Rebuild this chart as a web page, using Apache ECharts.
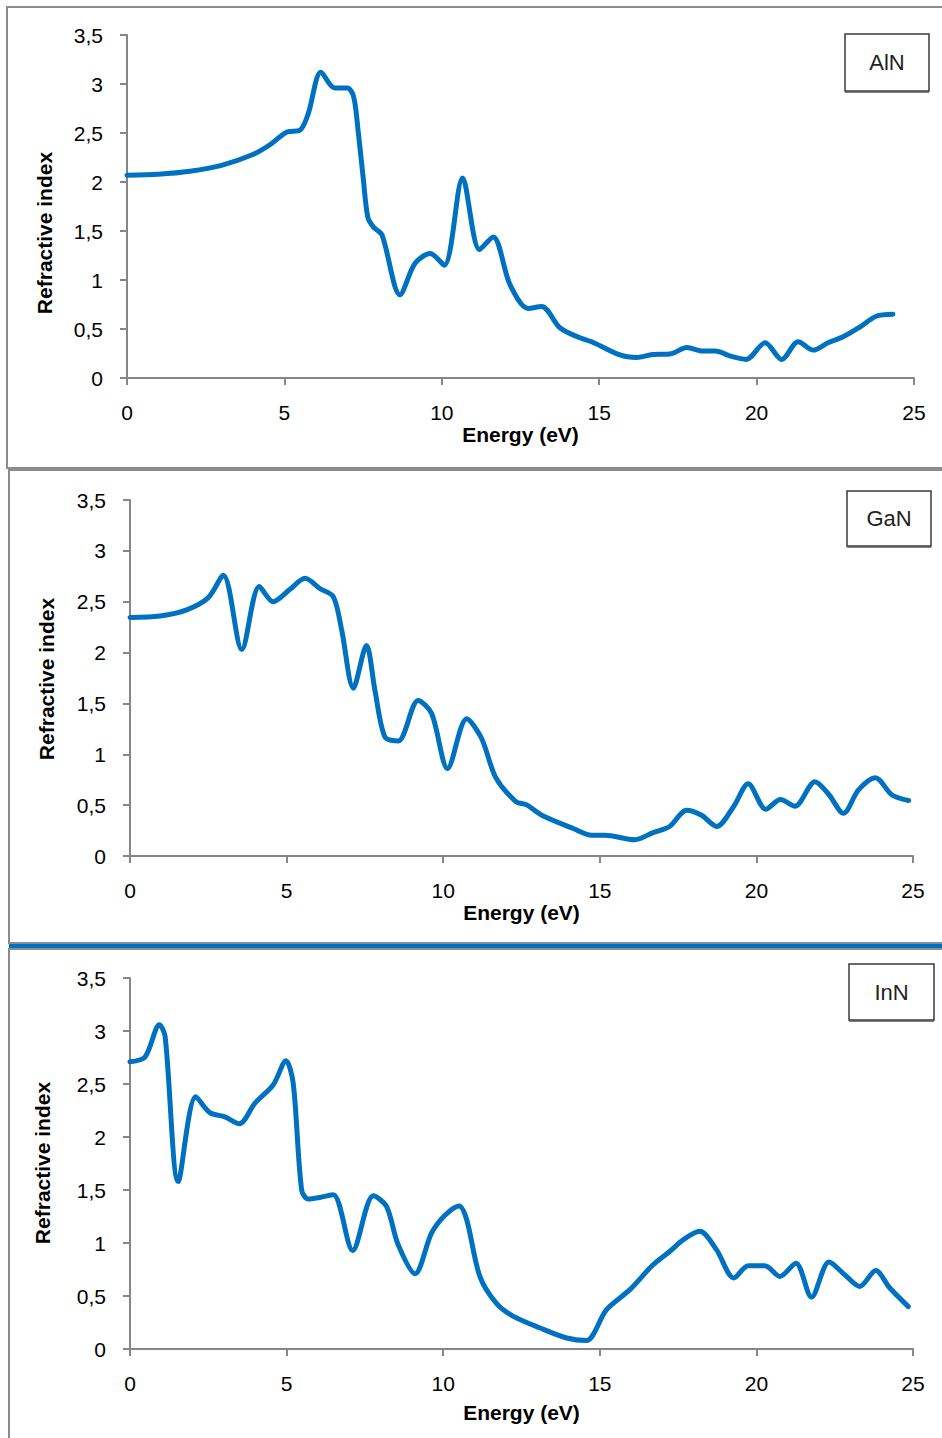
<!DOCTYPE html>
<html>
<head>
<meta charset="utf-8">
<script src="https://cdn.jsdelivr.net/npm/echarts@6/dist/echarts.min.js"></script>
<style>
  html, body { margin: 0; padding: 0; background: #fff; }
  #main { width: 942px; height: 1438px; }
</style>
</head>
<body>
<div id="main"></div>
<script>
// energy axis ticks / refractive index ticks
var xTicks = [0, 5, 10, 15, 20, 25];
var yTicks = [0, 0.5, 1, 1.5, 2, 2.5, 3, 3.5];

// AlN
var energyAlN = [0, 1, 2, 3, 4, 4.54, 5.08, 5.5, 5.76, 6.16, 6.6, 7.0, 7.2, 7.35, 7.5, 7.65, 7.83, 8.1, 8.67, 9.15, 9.63, 10.08, 10.66, 11.2, 11.63, 12.17, 12.74, 13.17, 13.76, 14.39, 14.76, 15.66, 16.19, 16.7, 17.25, 17.78, 18.3, 18.68, 19.2, 19.67, 20.27, 20.8, 21.32, 21.8, 22.27, 22.75, 23.28, 23.8, 24.33];
var nAlN = [2.07, 2.08, 2.11, 2.17, 2.28, 2.38, 2.51, 2.53, 2.70, 3.12, 2.96, 2.96, 2.87, 2.5, 2.05, 1.64, 1.54, 1.46, 0.85, 1.17, 1.27, 1.15, 2.04, 1.31, 1.44, 0.95, 0.71, 0.73, 0.51, 0.41, 0.37, 0.235, 0.21, 0.24, 0.245, 0.31, 0.275, 0.275, 0.22, 0.19, 0.36, 0.19, 0.37, 0.285, 0.36, 0.42, 0.52, 0.63, 0.65];

// GaN
var energyGaN = [0, 0.96, 1.81, 2.5, 2.98, 3.57, 4.13, 4.57, 5.1, 5.59, 6.06, 6.49, 6.76, 7.13, 7.55, 7.82, 8.14, 8.56, 9.2, 9.63, 10.14, 10.75, 11.22, 11.68, 12.32, 12.65, 13.15, 14.15, 14.74, 15.16, 16.12, 16.7, 17.23, 17.77, 18.25, 18.73, 19.26, 19.74, 20.3, 20.77, 21.23, 21.87, 22.3, 22.78, 23.26, 23.8, 24.33, 24.86];
var nGaN = [2.345, 2.36, 2.42, 2.54, 2.76, 2.03, 2.65, 2.5, 2.62, 2.73, 2.63, 2.55, 2.22, 1.65, 2.07, 1.63, 1.17, 1.13, 1.53, 1.40, 0.86, 1.35, 1.16, 0.77, 0.535, 0.505, 0.40, 0.27, 0.205, 0.205, 0.16, 0.23, 0.29, 0.45, 0.40, 0.29, 0.48, 0.71, 0.46, 0.555, 0.49, 0.73, 0.61, 0.42, 0.65, 0.77, 0.60, 0.545];

// InN
var energyInN = [0, 0.48, 0.94, 1.12, 1.54, 2.1, 2.55, 3.03, 3.49, 3.99, 4.57, 4.98, 5.21, 5.48, 5.69, 6.06, 6.49, 7.11, 7.77, 8.19, 8.56, 9.1, 9.63, 10.05, 10.51, 10.75, 11.17, 11.7, 12.23, 13.08, 13.94, 14.57, 15.21, 15.96, 16.7, 17.23, 17.66, 18.19, 18.72, 19.28, 19.74, 20.27, 20.75, 21.26, 21.76, 22.32, 22.82, 23.3, 23.81, 24.26, 24.85];
var nInN = [2.71, 2.755, 3.06, 2.95, 1.58, 2.38, 2.23, 2.19, 2.125, 2.32, 2.49, 2.72, 2.51, 1.50, 1.415, 1.43, 1.455, 0.93, 1.445, 1.345, 0.985, 0.71, 1.095, 1.26, 1.35, 1.22, 0.685, 0.43, 0.31, 0.20, 0.104, 0.08, 0.37, 0.56, 0.795, 0.92, 1.03, 1.11, 0.94, 0.67, 0.785, 0.785, 0.685, 0.81, 0.49, 0.82, 0.70, 0.59, 0.74, 0.575, 0.40];

var panelNames = ['AlN', 'GaN', 'InN'];

function pairs(xs, ys) {
  return xs.map(function (x, i) { return [x, ys[i]]; });
}

var axisGray = '#868686';
var lineBlue = '#0070c0';
var font = '"Liberation Sans", Arial, sans-serif';

var grids = [
  { left: 127, top: 35, width: 787, height: 343 },
  { left: 130, top: 500, width: 783, height: 356 },
  { left: 130, top: 978, width: 783, height: 371 }
];
var xNameGap = [46, 40, 53];

function makeX(i) {
  return {
    gridIndex: i,
    type: 'value',
    min: xTicks[0],
    max: xTicks[xTicks.length - 1],
    interval: 5,
    name: 'Energy (eV)',
    nameLocation: 'middle',
    nameGap: xNameGap[i],
    nameTextStyle: { fontFamily: font, fontWeight: 'bold', fontSize: 21, color: '#000' },
    axisLine: { show: true, lineStyle: { color: axisGray, width: 2 } },
    axisTick: { show: true, length: 7, lineStyle: { color: axisGray, width: 2 } },
    axisLabel: { margin: 24, fontFamily: font, fontSize: 21, color: '#000' },
    splitLine: { show: false }
  };
}

function makeY(i) {
  return {
    gridIndex: i,
    type: 'value',
    min: yTicks[0],
    max: yTicks[yTicks.length - 1],
    interval: 0.5,
    axisLine: { show: true, lineStyle: { color: axisGray, width: 2 } },
    axisTick: { show: true, length: 7, lineStyle: { color: axisGray, width: 2 } },
    axisLabel: {
      margin: 24, fontFamily: font, fontSize: 21, color: '#000',
      formatter: function (v) { return String(v).replace('.', ','); }
    },
    splitLine: { show: false }
  };
}

function makeSeries(i, xs, ys) {
  return {
    type: 'line',
    xAxisIndex: i,
    yAxisIndex: i,
    data: pairs(xs, ys),
    smooth: 0.3,
    showSymbol: false,
    lineStyle: { color: lineBlue, width: 5, cap: 'round', join: 'round' },
    itemStyle: { color: lineBlue },
    z: 3
  };
}

// panel frames, separator, legend boxes, y titles
var graphics = [
  { type: 'polyline', shape: { points: [[950, 7], [7, 7], [7, 468], [950, 468]] },
    style: { stroke: '#8c8c8c', lineWidth: 2, fill: null } },
  { type: 'polyline', shape: { points: [[950, 470], [9, 470], [9, 943], [950, 943]] },
    style: { stroke: '#8c8c8c', lineWidth: 2, fill: null } },
  { type: 'rect', shape: { x: 9, y: 944, width: 940, height: 4 }, style: { fill: lineBlue } },
  { type: 'polyline', shape: { points: [[950, 949], [9, 949], [9, 1445]] },
    style: { stroke: '#8c8c8c', lineWidth: 2, fill: null } }
];

var legendBoxes = [
  { x: 845, y: 34, w: 84, h: 57 },
  { x: 847, y: 491, w: 84, h: 55 },
  { x: 849, y: 964, w: 85, h: 56 }
];
legendBoxes.forEach(function (b, i) {
  graphics.push({ type: 'rect', shape: { x: b.x, y: b.y, width: b.w, height: b.h },
    style: { fill: '#fff', stroke: '#3a3a3a', lineWidth: 1.5 } });
  graphics.push({ type: 'line', shape: { x1: b.x, y1: b.y + b.h + 1, x2: b.x + b.w, y2: b.y + b.h + 1 },
    style: { stroke: '#555', lineWidth: 1.5 } });
  graphics.push({ type: 'text', x: b.x + b.w / 2, y: b.y + b.h / 2,
    style: { text: panelNames[i], font: '22px ' + font, fill: '#222',
      textAlign: 'center', textVerticalAlign: 'middle' } });
});

var yTitlePos = [[44, 233], [46, 679], [42, 1163]];
yTitlePos.forEach(function (p) {
  graphics.push({ type: 'text', x: p[0], y: p[1], rotation: Math.PI / 2,
    style: { text: 'Refractive index', font: 'bold 21px ' + font, fill: '#000',
      textAlign: 'center', textVerticalAlign: 'middle' } });
});

var option = {
  animation: false,
  backgroundColor: '#fff',
  grid: grids,
  xAxis: [0, 1, 2].map(makeX),
  yAxis: [0, 1, 2].map(makeY),
  series: [
    makeSeries(0, energyAlN, nAlN),
    makeSeries(1, energyGaN, nGaN),
    makeSeries(2, energyInN, nInN)
  ],
  graphic: graphics
};

var myChart = echarts.init(document.getElementById('main'), null, { renderer: 'svg' });
myChart.setOption(option);
</script>
</body>
</html>
